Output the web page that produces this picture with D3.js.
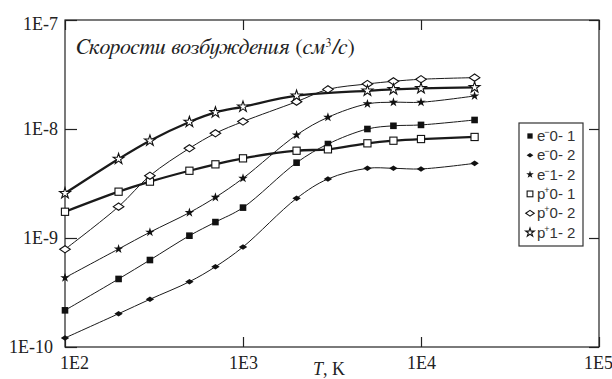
<!DOCTYPE html>
<html><head><meta charset="utf-8">
<script src="https://cdn.jsdelivr.net/npm/d3@7"></script>
<style>body{margin:0;background:#fff}svg{display:block}</style>
</head><body>
<script>
// ---- data ----
const temps = [100,200,300,500,700,1000,2000,3000,5000,7000,10000,20000];
const temps_p12 = [100,200,300,500,700,1000,2000,5000,7000,10000,20000];
const e01 = [2.17e-10,4.21e-10,6.28e-10,1.05e-9,1.40e-9,1.90e-9,4.91e-9,7.28e-9,1.0e-8,1.07e-8,1.09e-8,1.21e-8];
const e02 = [1.21e-10,2.02e-10,2.74e-10,3.97e-10,5.45e-10,8.27e-10,2.31e-9,3.48e-9,4.36e-9,4.36e-9,4.30e-9,4.84e-9];
const e12 = [4.32e-10,7.93e-10,1.13e-9,1.71e-9,2.36e-9,3.53e-9,8.81e-9,1.28e-8,1.70e-8,1.76e-8,1.76e-8,2.01e-8];
const p01 = [1.74e-9,2.66e-9,3.29e-9,4.14e-9,4.74e-9,5.38e-9,6.32e-9,6.51e-9,7.39e-9,7.81e-9,8.09e-9,8.45e-9];
const p02 = [7.88e-10,1.94e-9,3.73e-9,6.65e-9,9.13e-9,1.17e-8,1.78e-8,2.31e-8,2.59e-8,2.74e-8,2.86e-8,2.96e-8];
const p12 = [2.57e-9,5.31e-9,7.81e-9,1.16e-8,1.42e-8,1.60e-8,2.02e-8,2.24e-8,2.31e-8,2.36e-8,2.41e-8];
const xTicks = [100,1000,10000,100000];
const xTickLabels = ["1E2","1E3","1E4","1E5"];
const yTicks = [1e-10,1e-9,1e-8,1e-7];
const yTickLabels = ["1E-10","1E-9","1E-8","1E-7"];
const legendNames = [["e","\u2212","0- 1"],["e","\u2212","0- 2"],["e","\u2212","1- 2"],["p","+","0- 1"],["p","+","0- 2"],["p","+","1- 2"]];

// ---- series table ----
const series = [
  {t:temps, v:e01, marker:"sqFill", thick:false},
  {t:temps, v:e02, marker:"diaFillSmall", thick:false},
  {t:temps, v:e12, marker:"starFill", thick:false},
  {t:temps, v:p01, marker:"sqOpen", thick:true},
  {t:temps, v:p02, marker:"diaOpen", thick:false},
  {t:temps_p12, v:p12, marker:"starOpen", thick:true}
];

const W=612,H=379;
const L=65,R=599,T=20,B=347;
const serif="Liberation Serif";
const titleFont="FreeSerif";
const sans="Liberation Sans";
const svg=d3.select("body").append("svg").attr("width",W).attr("height",H);
const x=d3.scaleLog().domain([100,1e5]).range([L,R]);
const y=d3.scaleLog().domain([1e-10,1e-7]).range([B,T]);

// frame
svg.append("rect").attr("x",L).attr("y",T).attr("width",R-L).attr("height",B-T)
  .attr("fill","none").attr("stroke","#222").attr("stroke-width",1.2);

function styleAxis(g){g.select(".domain").remove();g.attr("font-family",serif).attr("font-size",18);g.selectAll("line").attr("stroke","#222").attr("stroke-width",1.2);}
const xb=svg.append("g").attr("transform",`translate(0,${B})`)
  .call(d3.axisBottom(x).tickValues(xTicks).tickSize(-10).tickPadding(9).tickFormat((d,i)=>xTickLabels[i]));
styleAxis(xb);
xb.selectAll("text").attr("fill","#222").attr("dx",(d,i)=>i===0?9:(i===3?-1:0));
const xt=svg.append("g").attr("transform",`translate(0,${T})`)
  .call(d3.axisTop(x).tickValues(xTicks).tickSize(-10).tickFormat(""));
styleAxis(xt);
const yl=svg.append("g").attr("transform",`translate(${L},0)`)
  .call(d3.axisLeft(y).tickValues(yTicks).tickSize(-12).tickPadding(7).tickFormat((d,i)=>yTickLabels[i]));
styleAxis(yl);
yl.selectAll("text").attr("fill","#222")
  .attr("dx",(d,i)=>i===0?-5:0).attr("dy",(d,i)=>i===3?"0.55em":"0.32em");
const yr=svg.append("g").attr("transform",`translate(${R},0)`)
  .call(d3.axisRight(y).tickValues(yTicks).tickSize(-10).tickFormat(""));
styleAxis(yr);

// axis title
const xtitle=svg.append("text").attr("font-family",serif).attr("font-size",18).attr("x",313).attr("y",375).attr("fill","#222");
xtitle.append("tspan").attr("font-style","italic").text("T");
xtitle.append("tspan").text(", K");

// chart title
const tt=svg.append("text").attr("font-family",titleFont).attr("font-size",22).attr("x",76).attr("y",54).attr("fill","#222");
tt.append("tspan").attr("font-style","italic").text("Скорости возбуждения ");
tt.append("tspan").text("(");
tt.append("tspan").attr("font-style","italic").text("см");
tt.append("tspan").attr("font-size",12).attr("dy",-7).text("3");
tt.append("tspan").attr("font-style","italic").attr("dy",7).text("/с");
tt.append("tspan").text(")");

// lines
const line=d3.line().x(d=>x(d[0])).y(d=>y(d[1])).curve(d3.curveCatmullRom.alpha(0.5));
series.forEach(s=>{
  const pts=s.t.map((t,i)=>[t,s.v[i]]);
  svg.append("path").datum(pts).attr("d",line).attr("fill","none")
    .attr("stroke","#1a1a1a").attr("stroke-width",s.thick?2.3:1);
});

// markers
function drawMarker(g,type,cx,cy,scale){
  const k=scale||1;
  switch(type){
    case "sqFill": g.append("rect").attr("x",cx-3.3*k).attr("y",cy-3.3*k).attr("width",6.6*k).attr("height",6.6*k).attr("fill","#111");break;
    case "sqOpen": g.append("rect").attr("x",cx-3.6*k).attr("y",cy-3.6*k).attr("width",7.2*k).attr("height",7.2*k).attr("fill","#fff").attr("stroke","#111").attr("stroke-width",1.1);break;
    case "diaFillSmall": g.append("path").attr("d",`M${cx-4.2*k},${cy}L${cx},${cy-2.8*k}L${cx+4.2*k},${cy}L${cx},${cy+2.8*k}Z`).attr("fill","#111");break;
    case "diaOpen": g.append("path").attr("d",`M${cx-5.3*k},${cy}L${cx},${cy-3.6*k}L${cx+5.3*k},${cy}L${cx},${cy+3.6*k}Z`).attr("fill","#fff").attr("stroke","#111").attr("stroke-width",1.1);break;
    case "starFill": g.append("path").attr("transform",`translate(${cx},${cy})`).attr("d",d3.symbol(d3.symbolStar,28*k*k)()).attr("fill","#111");break;
    case "starOpen": g.append("path").attr("transform",`translate(${cx},${cy})`).attr("d",d3.symbol(d3.symbolStar,36*k*k)()).attr("fill","#fff").attr("stroke","#111").attr("stroke-width",1.1);break;
  }
}
const mg=svg.append("g");
series.forEach(s=>{
  s.t.forEach((t,i)=>drawMarker(mg,s.marker,x(t),y(s.v[i]),1));
});

// legend
const lg=svg.append("g");
lg.append("rect").attr("x",519).attr("y",123).attr("width",64).attr("height",123)
  .attr("fill","#fff").attr("stroke","#333").attr("stroke-width",1.2);
legendNames.forEach((n,i)=>{
  const cy=136+i*19.3;
  drawMarker(lg,series[i].marker,530,cy,0.8);
  const tx=lg.append("text").attr("font-family",sans).attr("font-size",15).attr("x",537).attr("y",cy+5).attr("fill","#333");
  tx.append("tspan").text(n[0]);
  tx.append("tspan").attr("font-size",9).attr("dy",-6).attr("dx",-1).text(n[1]);
  tx.append("tspan").attr("dy",6).text(n[2]);
});
</script>
</body></html>
